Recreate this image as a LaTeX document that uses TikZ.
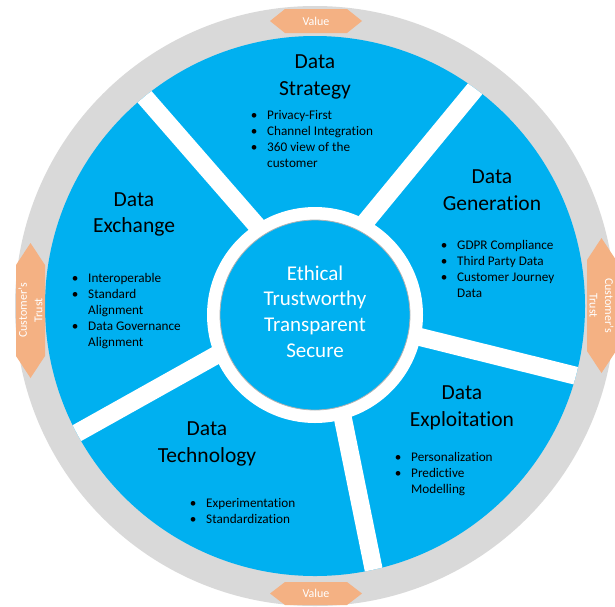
\documentclass[tikz,border=0pt]{standalone}
\usepackage{fontspec}
\setmainfont{Carlito}[Ligatures=NoCommon]
\usepackage{array}
\usetikzlibrary{calc}

\definecolor{wheelblue}{HTML}{00B0F0}
\definecolor{ringgrey}{HTML}{D9D9D9}
\definecolor{tagorange}{HTML}{F4B183}

\tikzset{
  segtitle/.style={align=center, font=\fontsize{21.5}{26.5}\selectfont, text=black, inner sep=0pt},
  blist/.style={anchor=base west, font=\fontsize{13.2}{16}\selectfont, text=black, inner sep=0pt},
  tagshape/.style={fill=tagorange},
  tagtext/.style={text=white, font=\fontsize{12}{15.5}\selectfont, align=center, inner sep=0pt},
  spoke/.style={white, line width=18pt},
}

\begin{document}
\begin{tikzpicture}[x=1pt,y=1pt]
\useasboundingbox (0,0) rectangle (615,-606);

% wheel
\coordinate (o) at (315,-306);
\coordinate (m) at (315,-315);
\fill[ringgrey] (o) circle (300pt);
\fill[wheelblue] (o) circle (270pt);

% white separators
\begin{scope}
  \clip (o) circle (270pt);
  \coordinate (sa1) at (136,-87);  \coordinate (sa2) at (265,-235);
  \coordinate (sb1) at (484,-78);  \coordinate (sb2) at (358,-231);
  \coordinate (sc1) at (593,-380); \coordinate (sc2) at (404,-333);
  \coordinate (sd1) at (378,-591); \coordinate (sd2) at (340,-404);
  \coordinate (se1) at (61,-442);  \coordinate (se2) at (229,-348);
  \draw[spoke] (sa1) -- (sa2);
  \draw[spoke] (sb1) -- (sb2);
  \draw[spoke] (sc1) -- (sc2);
  \draw[spoke] (sd1) -- (sd2);
  \draw[spoke] (se1) -- (se2);
\end{scope}

% centre
\fill[white] (m) circle (108pt);
\node[circle, fill=wheelblue, draw=gray!60, line width=0.8pt, minimum size=190pt, inner sep=0pt] (core) at (m) {};
\node[text=white, align=center, font=\fontsize{21}{25.7}\selectfont, inner sep=0pt] (values) at (315,-311.5)
  {Ethical\\Trustworthy\\Transparent\\Secure};

% segment titles
\node[segtitle] (strategy) at (315,-77) {Data\\Strategy};
\node[segtitle] (generation) at (492,-190) {Data\\Generation};
\node[segtitle] (exchange) at (134,-214.5) {Data\\Exchange};
\node[segtitle] (technology) at (207,-444) {Data\\Technology};
\node[segtitle] (exploitation) at (462,-408) {Data\\Exploitation};

% bullet lists
\node[blist] (strategylist) at (250,-119.5) {\begin{tabular}[t]{@{}wc{8pt}@{\hspace{9pt}}l@{}}
  \textbullet & Privacy-First\\
  \textbullet & Channel Integration\\
  \textbullet & 360 view of the\\
              & customer
\end{tabular}};
\node[blist] (generationlist) at (440,-249.5) {\begin{tabular}[t]{@{}wc{8pt}@{\hspace{9pt}}l@{}}
  \textbullet & GDPR Compliance\\
  \textbullet & Third Party Data\\
  \textbullet & Customer Journey\\
              & Data
\end{tabular}};
\node[blist] (exchangelist) at (71,-282.5) {\begin{tabular}[t]{@{}wc{8pt}@{\hspace{9pt}}l@{}}
  \textbullet & Interoperable\\
  \textbullet & Standard\\
              & Alignment\\
  \textbullet & Data Governance\\
              & Alignment
\end{tabular}};
\node[blist] (technologylist) at (189,-507.5) {\begin{tabular}[t]{@{}wc{8pt}@{\hspace{9pt}}l@{}}
  \textbullet & Experimentation\\
  \textbullet & Standardization
\end{tabular}};
\node[blist] (exploitationlist) at (394,-461.5) {\begin{tabular}[t]{@{}wc{8pt}@{\hspace{9pt}}l@{}}
  \textbullet & Personalization\\
  \textbullet & Predictive\\
              & Modelling
\end{tabular}};

% orange tags on the rim
\fill[tagshape] (270,-21) -- (285,-9) -- (347,-9) -- (362,-21) -- (347,-33) -- (285,-33) -- cycle;
\node[tagtext] (valuetop) at (316,-21) {Value};
\fill[tagshape] (270,-593.5) -- (285,-582) -- (347,-582) -- (362,-593.5) -- (347,-605) -- (285,-605) -- cycle;
\node[tagtext] (valuebottom) at (316,-593.5) {Value};
\fill[tagshape] (30.5,-243) -- (45,-265) -- (45,-356) -- (30.5,-378) -- (16,-356) -- (16,-265) -- cycle;
\node[tagtext, rotate=90] (trustleft) at (30.5,-310.5) {Customer’s\\Trust};
\fill[tagshape] (601.5,-238) -- (616,-260) -- (616,-351) -- (601.5,-373) -- (587,-351) -- (587,-260) -- cycle;
\node[tagtext, rotate=-90] (trustright) at (601.5,-305.5) {Customer’s\\Trust};
\end{tikzpicture}
\end{document}
